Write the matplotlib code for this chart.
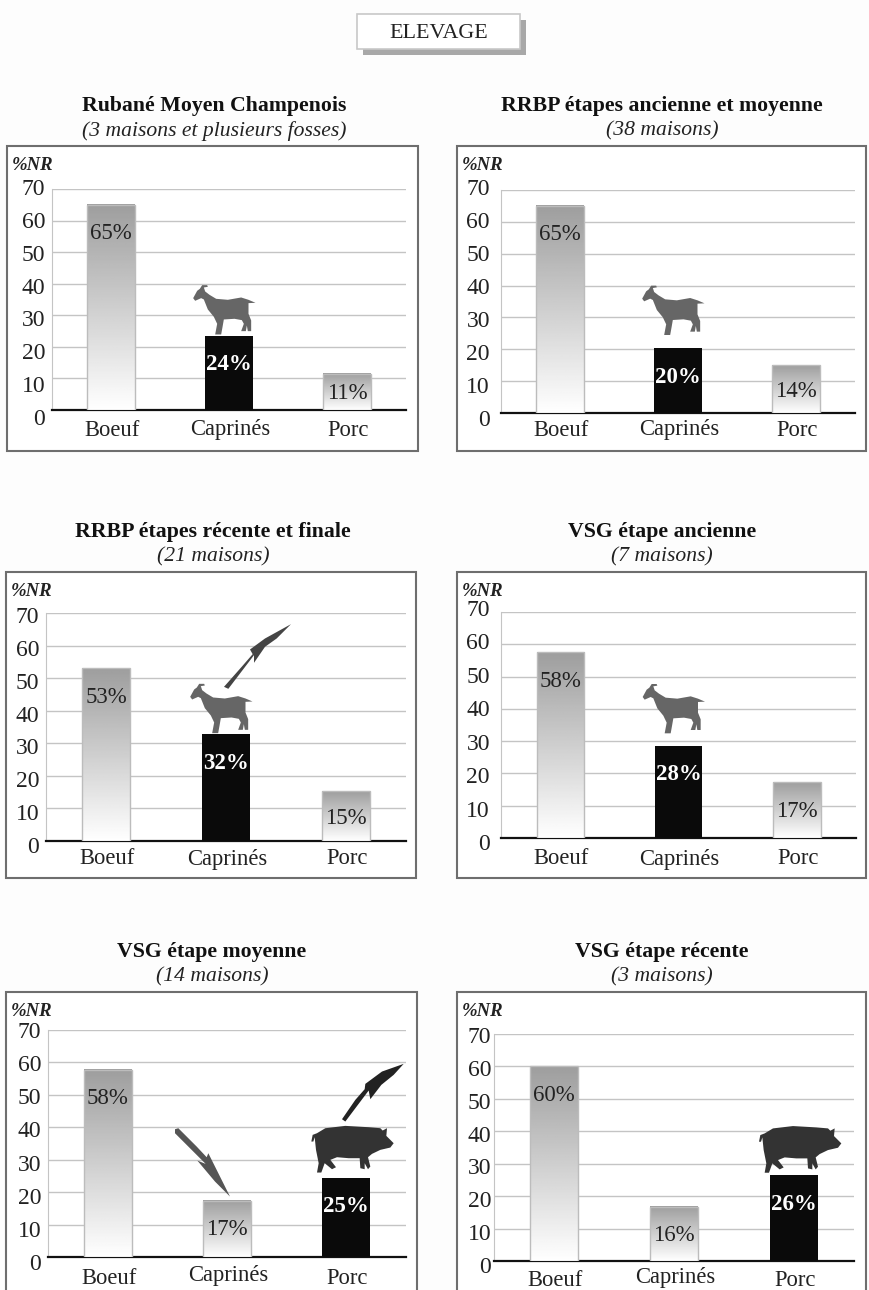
import numpy as np
import matplotlib
matplotlib.use('Agg')
import matplotlib.pyplot as plt
from matplotlib.patches import Polygon, Rectangle
from matplotlib.transforms import IdentityTransform, ScaledTranslation

plt.rcParams['font.family'] = ['Liberation Serif', 'DejaVu Serif']

W, H = 870, 1290

categories = ['Boeuf', 'Caprinés', 'Porc']
titles = ['Rubané Moyen Champenois', 'RRBP étapes ancienne et moyenne',
          'RRBP étapes récente et finale', 'VSG étape ancienne',
          'VSG étape moyenne', 'VSG étape récente']
subtitles = ['(3 maisons et plusieurs fosses)', '(38 maisons)', '(21 maisons)',
             '(7 maisons)', '(14 maisons)', '(3 maisons)']
boeuf = [65, 65, 53, 57.5, 57.7, 60]
caprines = [23.5, 20.3, 32.7, 28.6, 17.3, 16.8]
porc = [11.5, 15, 15.3, 17.3, 24.4, 26.5]
boeuf_labels = ['65%', '65%', '53%', '58%', '58%', '60%']
caprines_labels = ['24%', '20%', '32%', '28%', '17%', '16%']
porc_labels = ['11%', '14%', '15%', '17%', '25%', '26%']
# which bar is the black one in each panel
black_bar = [1, 1, 1, 1, 2, 2]
yticks = [0, 10, 20, 30, 40, 50, 60, 70]

# panel layout in pixels: box x0,y0,x1,y1 / axes x0,x1,ybottom,ytop / title y
boxes = [(7, 146, 418, 451), (457, 146, 866, 451), (6, 572, 416, 878),
         (457, 572, 866, 878), (6, 992, 417, 1300), (457, 992, 866, 1300)]
axpos = [(52, 406, 410, 189), (501, 855, 413, 190), (46, 406, 841, 613),
         (501, 856, 838, 612), (48, 406, 1257, 1030), (494, 854, 1261, 1034)]
title_xy = [(214, 106), (662, 106), (213, 532), (662, 532), (212, 952), (662, 952)]
# the tick labels are spaced a bit wider than the gridlines: y of "0" and of "70"
ticklabel_y = [(417, 187), (418, 187), (845, 615), (842, 608), (1262, 1030), (1265, 1035)]
tick_pad = [5, 8, 5, 8, 5, 2]
# (Boeuf, Caprinés, Porc) label heights under the axis
cat_y = [(430, 430, 430), (430, 430, 430), (859, 859, 859), (859, 859, 859),
         (1278, 1275, 1278), (1281, 1277, 1280)]
# gap between icon and bar
icon_gap = [0, 12, 0, 11, 0, -3]


def shape(points, ox, oy):
    # zoomed crop coordinates to pixels relative to top centre of the bar
    return (np.array(points, float) - [ox, oy]) / 3


goat = shape([(68, 19), (53, 19), (46, 30), (38, 36), (26, 58), (32, 66), (50, 58), (58, 62),
              (70, 92), (88, 114), (98, 135), (92, 167), (110, 167), (114, 145), (118, 122),
              (150, 120), (172, 124), (178, 135), (170, 157), (184, 157), (187, 140), (190, 157),
              (200, 157), (200, 125), (192, 105), (192, 73), (213, 72), (192, 63), (170, 56),
              (130, 63), (95, 60), (75, 48), (62, 38), (58, 26), (70, 24)], 133.5, 171)
pig = shape([(18, 275), (22, 255), (35, 250), (60, 235), (120, 228), (190, 232), (225, 235),
             (232, 242), (245, 235), (243, 258), (265, 280), (255, 293), (225, 300), (200, 312),
             (188, 322), (195, 350), (188, 358), (178, 340), (178, 358), (165, 355), (163, 325),
             (130, 325), (95, 322), (75, 330), (92, 352), (80, 358), (58, 340), (48, 368),
             (35, 368), (40, 340), (32, 300), (28, 262), (24, 275)], 123, 384)
arrow_pig = shape([(110, 208), (150, 150), (178, 118), (180, 102), (230, 65), (295, 42),
                   (265, 75), (228, 105), (195, 148), (190, 122), (120, 215)], 123, 384)
arrow_goat = shape([(132, 220), (185, 160), (218, 122), (210, 108), (255, 75), (333, 32),
                    (290, 75), (255, 100), (222, 148), (222, 125), (145, 226)], 138, 363)
arrow_down = shape([(30, 28), (40, 25), (95, 80), (125, 112), (130, 100), (160, 160),
                    (195, 230), (150, 185), (97, 122), (122, 132), (30, 40)], 186, 243)

fig = plt.figure(figsize=(W / 100, H / 100), dpi=100, facecolor='#fdfdfd')

bg = fig.add_axes([0, 0, 1, 1])
bg.set_xlim(0, W)
bg.set_ylim(H, 0)
bg.axis('off')

# header
bg.add_patch(Rectangle((363, 20), 163, 35, fc='#a8a8a8', ec='none'))
bg.add_patch(Rectangle((357, 14), 163, 35, fc='white', ec='#c8c8c8', lw=1.2))
bg.text(438.5, 33, 'ELEVAGE', ha='center', va='center', fontsize=15.8, color='#222222')


def put_shape(ax, pts, xpos, ytop, color, gap=0):
    px, py = ax.transData.transform((xpos, ytop))
    verts = np.column_stack([px + pts[:, 0], py + gap - pts[:, 1]])
    ax.add_patch(Polygon(verts, closed=True, fc=color, ec='none',
                         transform=IdentityTransform(), clip_on=False, zorder=6))


grad = np.linspace(0, 1, 128).reshape(-1, 1)

for i in range(6):
    bx0, by0, bx1, by1 = boxes[i]
    bg.add_patch(Rectangle((bx0, by0), bx1 - bx0, by1 - by0, fc='white', ec='#6e6e6e', lw=1.5))
    tx, ty = title_xy[i]
    bg.text(tx, ty, titles[i], ha='center', va='center', fontsize=15.7,
            fontweight='bold', color='#111111')
    bg.text(tx, ty + 25, subtitles[i], ha='center', va='center', fontsize=15.6,
            style='italic', color='#222222')
    bg.text(bx0 + 5, by0 + 19, '%NR', ha='left', va='center', fontsize=13.5,
            style='italic', fontweight='bold', color='#222222')

    x0, x1, yb, yt = axpos[i]
    ax = fig.add_axes([x0 / W, 1 - yb / H, (x1 - x0) / W, (yb - yt) / H])
    ax.patch.set_alpha(0)
    ax.set_xlim(-0.5, 2.5)
    ax.set_ylim(0, 70)
    ax.set_yticks(yticks)
    ax.set_xticks([])
    ax.yaxis.grid(True, color='#c4c4c4', lw=1)
    ax.set_axisbelow(True)
    ax.tick_params(axis='y', length=0, pad=tick_pad[i], labelsize=17, labelcolor='#222222')
    for s in ['top', 'right']:
        ax.spines[s].set_visible(False)
    ax.spines['left'].set_color('#c4c4c4')
    ax.spines['bottom'].set_color('#111111')
    ax.spines['bottom'].set_linewidth(1.6)

    # shift each tick label to where the source has it
    ly0, ly70 = ticklabel_y[i]
    for v, lab in zip(yticks, ax.get_yticklabels()):
        natural = yb - (yb - yt) * v / 70
        wanted = ly0 - (ly0 - ly70) * v / 70
        lab.set_transform(lab.get_transform() + ScaledTranslation(0, (natural - wanted) / 100, fig.dpi_scale_trans))

    vals = [boeuf[i], caprines[i], porc[i]]
    labs = [boeuf_labels[i], caprines_labels[i], porc_labels[i]]
    px_per_unit = (yb - yt) / 70
    for j in range(3):
        v = vals[j]
        if j == black_bar[i]:
            ax.bar(j, v, width=0.4, color='#0a0a0a', zorder=3)
            col, fw = 'white', 'bold'
        else:
            ax.imshow(grad, extent=(j - 0.2, j + 0.2, 0, v), aspect='auto', cmap='gray',
                      vmin=-1.63, vmax=1.0, zorder=3, interpolation='bilinear')
            ax.bar(j, v, width=0.4, fc='none', ec='#bcbcbc', lw=1, zorder=4)
            col, fw = '#222222', 'normal'
        off = min(29, v * px_per_unit * 0.55)
        ax.annotate(labs[j], (j, v), xytext=(0, -off * 0.72), textcoords='offset points',
                    ha='center', va='center', fontsize=16.5, color=col, fontweight=fw, zorder=5)
        bg_x = x0 + (x1 - x0) * (j + 0.5) / 3
        bg.text(bg_x + 1, cat_y[i][j], categories[j], ha='center', va='center',
                fontsize=16.3, color='#222222')
    ax.set_xlim(-0.5, 2.5)
    ax.set_ylim(0, 70)

    # icons on top of the highlighted bar
    b = black_bar[i]
    if b == 1:
        put_shape(ax, goat, b, vals[b], '#666666', icon_gap[i])
    else:
        put_shape(ax, pig, b, vals[b], '#333333', icon_gap[i])

    if i == 2:
        put_shape(ax, arrow_goat, 1, vals[1], '#444444')
    if i == 4:
        put_shape(ax, arrow_down, 1, vals[1], '#555555')
        put_shape(ax, arrow_pig, 2, vals[2], '#222222')

fig.savefig('out.png', dpi=100, facecolor=fig.get_facecolor())
